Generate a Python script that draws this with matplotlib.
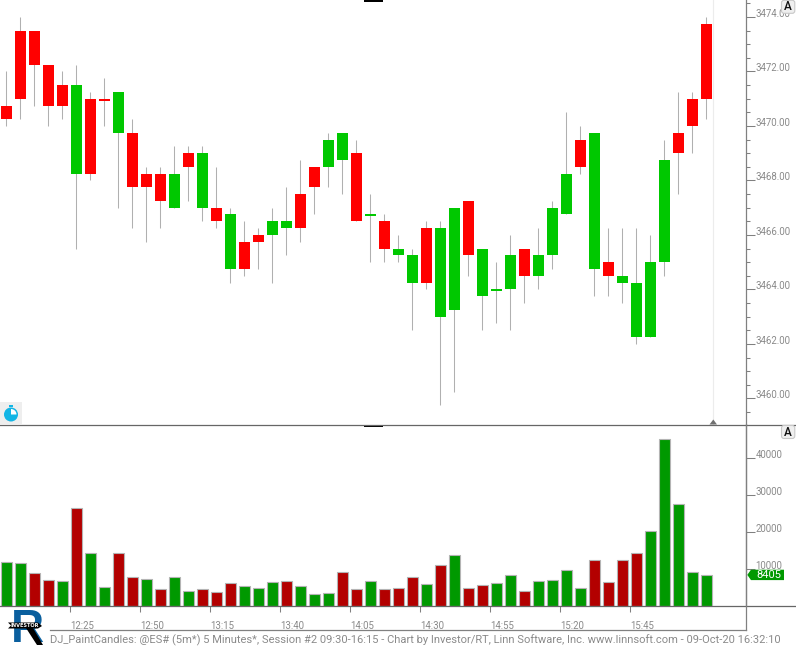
import matplotlib
matplotlib.use("Agg")
import matplotlib.pyplot as plt
from matplotlib.patches import Rectangle, Polygon, Circle, FancyBboxPatch, Wedge
from matplotlib.ticker import MultipleLocator
from matplotlib.transforms import ScaledTranslation

body_top = [3470.75,3473.5,3473.5,3472.25,3471.5,3471.5,3471,3471,3471.25,3469.75,
            3468.25,3468.25,3468.25,3469,3469,3467,3466.75,3465.75,3466,3466.5,
            3466.5,3467.5,3468.5,3469.5,3469.75,3469,3466.75,3466.5,3465.5,3465.25,
            3466.25,3466.25,3467,3467.25,3465.5,3464,3465.25,3465.5,3465.25,3467,
            3468.25,3469.5,3469.75,3465,3464.5,3464.25,3465,3468.75,3469.75,3471,3473.75]
body_bot = [3470.25,3471,3472.25,3470.75,3470.75,3468.25,3468.25,3470.93,3469.75,3467.75,
            3467.75,3467.25,3467,3468.5,3467,3466.5,3464.75,3464.75,3465.75,3466,
            3466.25,3466.25,3467.75,3468.5,3468.75,3466.5,3466.68,3465.5,3465.25,3464.25,
            3464.25,3463,3463.25,3465.25,3463.75,3463.93,3464,3464.5,3464.5,3465.25,
            3466.75,3468.5,3464.75,3464.5,3464.25,3462.25,3462.25,3465,3469,3470,3471]
wick_high = [3472,3474,3473.5,3472.25,3472,3472.25,3471.25,3471.75,3471.25,3470.25,
             3468.5,3468.5,3469.25,3469.25,3469.25,3468.5,3467,3466.5,3466.25,3467,
             3467.75,3468.75,3468.5,3469.75,3469.75,3469.5,3467.5,3466.75,3466,3465.5,
             3466.5,3466.5,3467,3467.25,3465.5,3465,3466,3465.5,3466.25,3467.25,
             3470.5,3470,3469.75,3466.25,3466.25,3466.25,3466,3469.5,3471.25,3471.25,3474]
wick_low = [3470,3470.25,3470.75,3470,3470.25,3465.5,3468,3470,3467,3466.25,
            3465.75,3466.25,3467,3467.25,3466.5,3466.25,3464.25,3464.5,3464.75,3464.25,
            3465.25,3465.75,3466.75,3467.75,3467.5,3466.5,3465,3465,3465,3462.5,
            3464,3459.75,3460.25,3464.5,3462.5,3462.75,3462.5,3463.5,3464,3464.75,
            3466.75,3468.25,3463.75,3463.75,3463.5,3462,3462.25,3464.5,3467.5,3469,3470.25]
candle_color = ['r','r','r','r','r','g','r','r','g','r','r','r','g','r','g','r','g','r','r','g',
                'g','r','r','g','g','r','g','r','g','g','r','g','g','r','g','g','g','r','g','g',
                'g','r','g','r','g','g','g','g','r','r','r']
volume = [11830,11560,8860,6970,6700,26400,14260,5070,14260,7780,7240,4530,7780,3990,4530,
          3720,6160,5350,4800,6430,6700,5350,3180,3450,9130,4530,6700,4530,4800,7780,
          5890,11020,13720,4800,5620,6160,8320,3990,6700,6970,9670,4800,12370,6430,12370,
          14260,20200,45100,27500,9130,8405]
vol_color = ['g','g','r','r','g','r','g','g','r','r','g','r','g','g','r','r','r','g','g','g',
             'r','g','g','g','r','r','g','r','r','r','g','r','g','r','r','g','g','r','g','g',
             'g','g','r','r','r','r','g','g','g','g','g']
time_labels = ["12:25","12:50","13:15","13:40","14:05","14:30","14:55","15:20","15:45"]
time_ticks = [4.57+5*k for k in range(len(time_labels))]
title = ("DJ_PaintCandles: @ES# (5m*) 5 Minutes*, Session #2 09:30-16:15 - Chart by "
         "Investor/RT, Linn Software, Inc. www.linnsoft.com - 09-Oct-20 16:32:10")

W, H = 796, 647
FONT = "Roboto"
GR = "#808080"
TXT = "#8a8a8a"
fig = plt.figure(figsize=(W/100, H/100), dpi=100, facecolor="white")

def axpx(x0, y0, x1, y1, **k):
    return fig.add_axes([x0/W, 1-y1/H, (x1-x0)/W, (y1-y0)/H], **k)

AX_R = 745.7
xl = (-6.3/14, (AX_R-6.3)/14)
ax = axpx(0, 0, AX_R, 424.5)
av = axpx(0, 424.5, AX_R, 606)
ov = fig.add_axes([0, 0, 1, 1], zorder=10)
ov.set_xlim(0, W); ov.set_ylim(H, 0); ov.axis("off"); ov.patch.set_alpha(0)

n = len(body_top)
xs = list(range(n))
CC = {'r': '#ff0000', 'g': '#00c800'}
VC = {'r': '#b30000', 'g': '#009900'}

ax.vlines(xs, wick_low, wick_high, colors="#b0b0b0", lw=0.75, zorder=2)
ax.bar(xs, [t-b for t, b in zip(body_top, body_bot)], bottom=body_bot, width=11/14,
       color=[CC[c] for c in candle_color], lw=0, zorder=3)
ax.set_xlim(*xl)
ax.set_ylim(3474-(424.5-17)/27.24, 3474+17/27.24)
ax.yaxis.tick_right()
ax.yaxis.set_major_locator(MultipleLocator(2))
ax.yaxis.set_minor_locator(MultipleLocator(0.5))
ax.yaxis.set_major_formatter(lambda v, p: f"{v:.2f}")
ax.set_xticks([])

av.bar(xs, volume, width=11.4/14, color=[VC[c] for c in vol_color],
       edgecolor="#b4b4b4", lw=0.8, zorder=3)
av.set_xlim(*xl)
av.set_ylim(0, (606-424.5)/37*10000)
av.yaxis.tick_right()
av.set_yticks([10000, 20000, 30000, 40000])
av.set_xticks(time_ticks)
av.set_xticklabels(time_labels, ha="left")

up = ScaledTranslation(0, 3/100, fig.dpi_scale_trans)
for a in (ax, av):
    for s in ("top", "left", "bottom"):
        a.spines[s].set_visible(False)
    a.spines["right"].set_color(GR)
    a.spines["right"].set_linewidth(0.9)
    a.tick_params(axis="y", which="major", length=6.5, width=0.75, color=GR, pad=0.6,
                  labelcolor=TXT, labelsize=6.9)
    a.tick_params(axis="y", which="minor", length=2.6, width=0.75, color=GR)
    for t in a.get_yticklabels():
        t.set_verticalalignment("center")
        t.set_fontfamily(FONT)
        t.set_transform(t.get_transform() + up)
av.tick_params(axis="x", length=4.5, width=0.75, color=GR, pad=6.5, labelcolor=TXT, labelsize=6.9)
for t in av.get_xticklabels():
    t.set_fontfamily(FONT)

# frame lines
ov.plot([0, W], [424.5, 424.5], color="#666666", lw=0.9)
ov.plot([0, W], [605.6, 605.6], color="#666666", lw=0.9)
ov.plot([50, AX_R], [630.3, 630.3], color=GR, lw=0.9)
ov.plot([AX_R, AX_R], [424, 630.3], color=GR, lw=0.9)

# current-bar line and marker
ov.plot([713.3, 713.3], [0, 424], color="#ececec", lw=0.8, zorder=1)
ov.add_patch(Polygon([[709.5, 424.5], [713.3, 419.5], [717, 424.5]], color="#707070", lw=0))

# black tabs
ov.add_patch(Rectangle((363.5, 0), 19, 1.7, color="black", lw=0))
ov.add_patch(Rectangle((364, 425), 18.5, 2.2, color="black", lw=0))

# auto-scale buttons
for y0 in (0.3, 425.5):
    ov.add_patch(FancyBboxPatch((781.5, y0), 13.3, 13, boxstyle="round,pad=0,rounding_size=2.5",
                                fc="#efefef", ec="#c8c8c8", lw=0.8, zorder=5))
    ov.text(788.2, y0+6.5, "A", ha="center", va="center", fontsize=8.5, color="#111111",
            family=FONT, fontweight="medium", zorder=6)

# last-volume flag
yv = H - av.transData.transform((0, volume[-1]))[1]
ov.add_patch(Polygon([[747.3, yv], [751, yv-5.2], [784, yv-5.2], [784, yv+5.2], [751, yv+5.2]],
                     color="#009900", lw=0))
ov.text(768.8, yv, f"{volume[-1]}", color="white", ha="center", va="center", fontsize=8, family=FONT)

# stopwatch
ov.add_patch(Rectangle((0, 402), 22, 22, color="#eeeeee", lw=0))
ov.add_patch(Circle((11, 414.5), 7, color="#12b5e5", lw=0))
ov.add_patch(Rectangle((9, 405), 4, 2, color="#12b5e5", lw=0))
ov.add_patch(Wedge((11, 414.5), 5.5, 270, 360, color="white", lw=0))

# logo
ov.text(11, 642, "R", color="#0a5f9e", fontsize=33, fontweight="bold", ha="left", va="baseline",
        family="Liberation Sans")
ov.add_patch(Polygon([[26, 628], [33, 628], [43, 645], [37, 645]], color="black", lw=0, zorder=4))
ov.add_patch(Polygon([[8, 622.5], [38, 622.5], [42, 626], [38, 628.5], [8, 628.5], [11, 625.5]],
                     color="black", lw=0, zorder=4))
ov.text(24.5, 625.5, "INVESTOR", color="white", fontsize=3.6, ha="center", va="center",
        fontweight="bold", zorder=5)

# status line, sized so that it spans the same width as in the reference
st = ov.text(50.5, 640, title, color=TXT, fontsize=8, family=FONT, ha="left", va="center")
fig.canvas.draw()
st.set_fontsize(8 * 733 / st.get_window_extent().width)

fig.savefig("out.png", dpi=100)
